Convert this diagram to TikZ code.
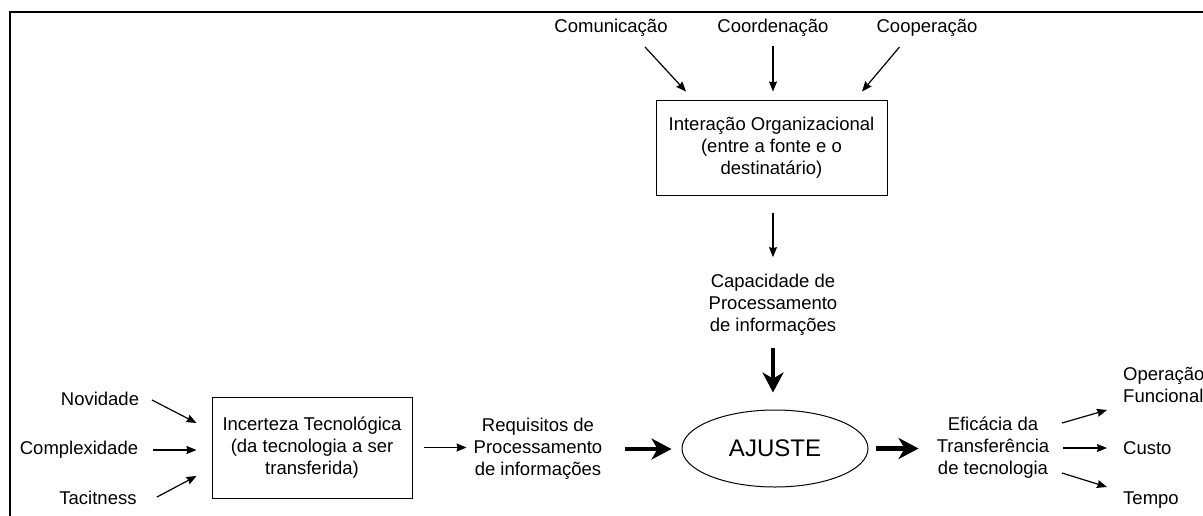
\documentclass[tikz,border=0pt]{standalone}
\usepackage{fontspec}
\setmainfont{Liberation Sans}
\usetikzlibrary{arrows.meta,shapes.geometric}

\begin{document}
\begin{tikzpicture}[x=1pt,y=-1pt,font=\fontsize{18.5}{22}\selectfont,
  txt/.style={align=center,inner sep=0pt},
  caixa/.style={draw,line width=1pt,align=center,inner sep=0pt},
  seta/.style={line width=1.2pt,-{Stealth[length=10pt,width=8pt,inset=1pt]}},
  setagrossa/.style={line width=4.5pt,-{Stealth[length=20pt,width=21pt,inset=6pt]}}]
  \useasboundingbox (0,0) rectangle (1203,515);
  \clip (0,0) rectangle (1203,515);
  \draw[line width=2pt] (10,12) rectangle (1240,560);

  \node[txt] (com) at (611,28) {Comunicação};
  \node[txt] (coo) at (773,28) {Coordenação};
  \node[txt] (cop) at (927,28) {Cooperação};
  \node[caixa,minimum width=231pt,minimum height=95pt] (inter) at (771.5,147.5) {Interação Organizacional\\(entre a fonte e o\\destinatário)};
  \node[txt] (cap) at (773,305) {Capacidade de\\Processamento\\de informações};
  \node[draw,ellipse,line width=1pt,minimum width=186pt,minimum height=77pt,inner sep=0pt,
    font=\fontsize{24}{28}\selectfont] (aj) at (775,448.5) {AJUSTE};

  \node[caixa,minimum width=200pt,minimum height=101pt] (inc) at (312,447.5) {Incerteza Tecnológica\\(da tecnologia a ser\\transferida)};
  \node[txt] (nov) at (100,399) {Novidade};
  \node[txt] (cpx) at (79,450) {Complexidade};
  \node[txt] (tac) at (98,498) {Tacitness};
  \node[txt] (req) at (538,449) {Requisitos de\\Processamento\\de informações};
  \node[txt] (efi) at (993,448) {Eficácia da\\Transferência\\de tecnologia};
  \node[txt,anchor=west,align=left] (ope) at (1123,385) {Operação\\Funcional};
  \node[txt,anchor=west] (cus) at (1123,448) {Custo};
  \node[txt,anchor=west] (tem) at (1123,500) {Tempo};

  \draw[seta] ([shift={(34pt,-19pt)}]com.center) -- ([shift={(-85.5pt,8pt)}]inter.north);
  \draw[seta,shorten <=9pt,shorten >=8pt] (coo.south) -- (coo.south |- inter.north);
  \draw[seta] ([shift={(-27.5pt,-19pt)}]cop.center) -- ([shift={(90.5pt,8pt)}]inter.north);
  \draw[seta,shorten <=17pt,shorten >=17pt] (cap.north |- inter.south) -- (cap.north);
  \draw[setagrossa,shorten <=12pt,shorten >=17pt] (cap.south) -- (cap.south |- aj.north);

  \draw[seta] ([shift={(52pt,-1pt)}]nov.center) -- ([shift={(-15pt,24.5pt)}]inc.west);
  \draw[seta,shorten <=15pt,shorten >=15pt] (cpx.east) -- (cpx.east -| inc.west);
  \draw[seta] ([shift={(59pt,1pt)}]tac.center) -- ([shift={(-15pt,-28.5pt)}]inc.west);
  \draw[seta,shorten <=11pt,shorten >=7pt] (inc.east) -- (inc.east -| req.west);
  \draw[setagrossa,shorten <=23pt,shorten >=10pt] (req.east) -- (req.east -| aj.west);
  \draw[setagrossa,shorten <=7pt,shorten >=18pt] (aj.east) -- (aj.east -| efi.west);

  \draw[seta] ([shift={(69pt,25pt)}]efi.center) -- ([shift={(-16pt,-25pt)}]ope.west);
  \draw[seta,shorten <=14pt,shorten >=16pt] (efi.east) -- (efi.east -| cus.west);
  \draw[seta] ([shift={(69pt,-25pt)}]efi.center) -- ([shift={(-16pt,13pt)}]tem.west);
\end{tikzpicture}
\end{document}
